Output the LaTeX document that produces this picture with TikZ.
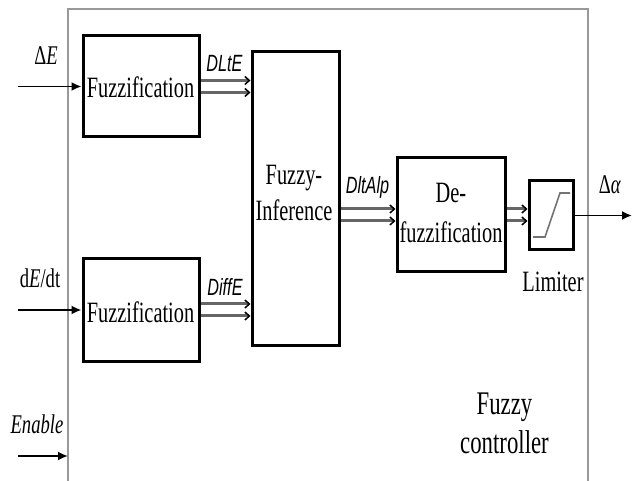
\documentclass[tikz,border=0pt]{standalone}
\usepackage{fontspec}
\setmainfont{Liberation Serif}[FakeStretch=0.69]
\newfontfamily\lblfont{Liberation Sans}[FakeStretch=0.69]
\usetikzlibrary{arrows.meta}
\begin{document}
\begin{tikzpicture}[x=1pt,y=-1pt,
  blk/.style={draw=black, line width=3pt, rectangle, inner sep=0pt},
  txt/.style={anchor=base, inner sep=0pt, font=\fontsize{29.5}{36}\selectfont},
  bigtxt/.style={anchor=base, inner sep=0pt, font=\fontsize{33}{39}\selectfont},
  iotxt/.style={anchor=base, inner sep=0pt, font=\fontsize{27}{32}\selectfont},
  sig/.style={anchor=base, inner sep=0pt, font=\lblfont\itshape\fontsize{23.5}{28}\selectfont},
  inarr/.style={line width=1.8pt, -{Latex[length=10pt,width=9pt]}},
  vec/.style={line width=3pt, draw=black!60, -{Straight Barb[length=4.5pt,width=8pt,line width=1.5pt,color=black]}},
  frm/.style={draw=black!40, line width=1.2pt},
  sat/.style={draw=black!55, line width=1.6pt}
]
\useasboundingbox (0,0) rectangle (635,481);
\fill[white] (0,0) rectangle (635,481);
% controller frame
\draw[frm] (68,490) -- (68,9) -- (588,9) -- (588,490);
% blocks
\node[blk, minimum width=116pt, minimum height=101pt] (fz1) at (141,86.5) {};
\node[blk, minimum width=116pt, minimum height=102pt] (fz2) at (141,310) {};
\node[blk, minimum width=87pt, minimum height=293pt] (inf) at (295.5,198.5) {};
\node[blk, minimum width=108pt, minimum height=114pt] (dfz) at (451,215) {};
\node[blk, minimum width=44pt, minimum height=69pt] (lim) at (551,215.5) {};
% block texts
\node[txt] (t1) at (140.5,98) {Fuzzification};
\node[txt] (t2) at (140.5,323) {Fuzzification};
\node[txt] (t3) at (294,185) {Fuzzy-};
\node[txt] (t4) at (294,221) {Inference};
\node[txt] (t5) at (451,203) {De-};
\node[txt] (t6) at (451,243) {fuzzification};
\node[txt] (t7) at (553,291) {Limiter};
\node[bigtxt] (t8) at (504.5,414) {Fuzzy};
\node[bigtxt] (t9) at (504.5,453) {controller};
% io labels
\node[iotxt] (lE) at (46,65) {Δ\textit{E}};
\node[iotxt] (ldt) at (40,288) {d\textit{E}/dt};
\node[iotxt] (len) at (37,433) {\textit{Enable}};
\node[iotxt] (la) at (610,194) {Δ\textit{α}};
% signal labels
\node[sig] (s1) at (224.5,72) {DLtE};
\node[sig] (s2) at (225,295) {DiffE};
\node[sig] (s3) at (367.5,194) {DltAlp};
% inputs / output
\coordinate (i1) at (18,86.5);
\coordinate (i2) at (18,310);
\coordinate (i3) at (18,456);
\coordinate (e3) at (68,456);
\coordinate (o1) at (632,215.5);
\draw[inarr] (i1) -- (fz1.west);
\draw[inarr] (i2) -- (fz2.west);
\draw[inarr] (i3) -- (e3);
\draw[inarr] (lim.east) -- (o1);
% vector signals
\path ([yshift=6pt]fz1.east) coordinate (a1) ([yshift=-6pt]fz1.east) coordinate (a2);
\path ([yshift=6pt]fz2.east) coordinate (b1) ([yshift=-6pt]fz2.east) coordinate (b2);
\path ([yshift=6pt]dfz.west) coordinate (c1) ([yshift=-6pt]dfz.west) coordinate (c2);
\path ([yshift=6pt]dfz.east) coordinate (d1) ([yshift=-6pt]dfz.east) coordinate (d2);
\draw[vec] (a1) -- (a1 -| inf.west);
\draw[vec] (a2) -- (a2 -| inf.west);
\draw[vec] (b1) -- (b1 -| inf.west);
\draw[vec] (b2) -- (b2 -| inf.west);
\draw[vec] (c1 -| inf.east) -- (c1);
\draw[vec] (c2 -| inf.east) -- (c2);
\draw[vec] (d1) -- (d1 -| lim.west);
\draw[vec] (d2) -- (d2 -| lim.west);
% saturation curve
\draw[sat] ([shift={(-18,21.5)}]lim.center) -- ([shift={(-6,21.5)}]lim.center)
  -- ([shift={(9,-22.5)}]lim.center) -- ([shift={(19,-22.5)}]lim.center);
\end{tikzpicture}
\end{document}
